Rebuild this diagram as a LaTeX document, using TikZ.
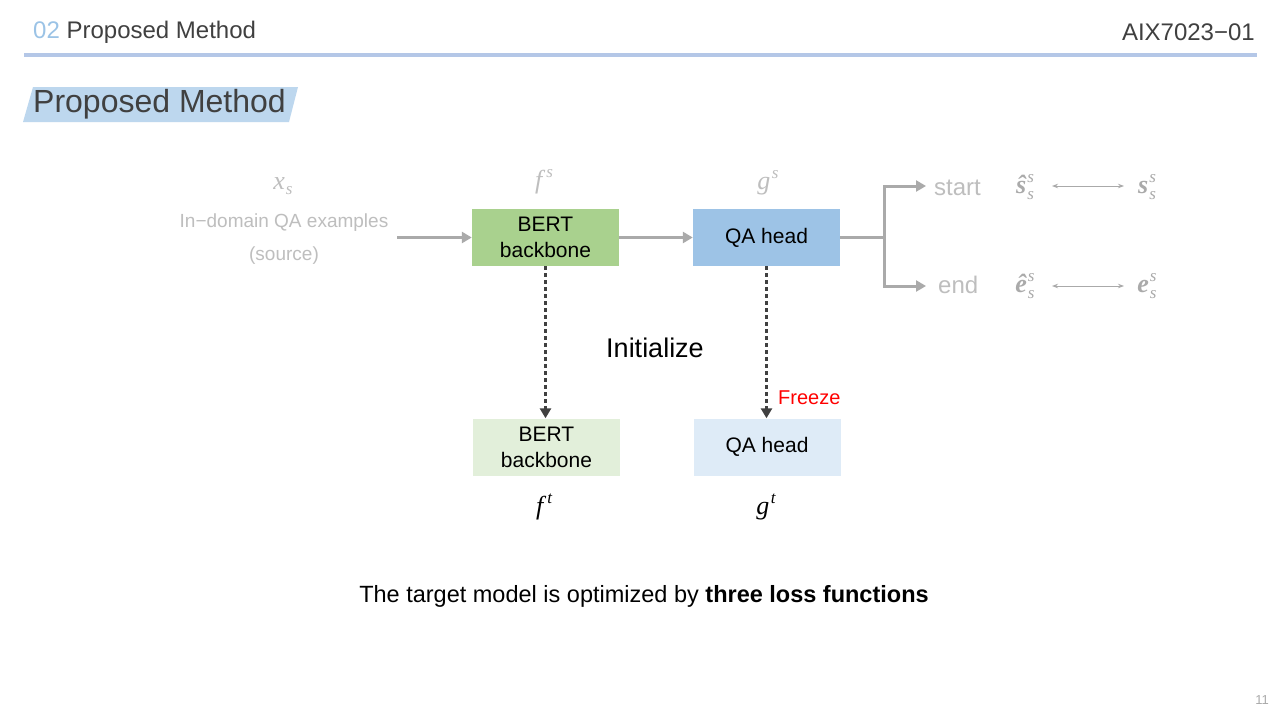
\documentclass[tikz,border=0pt]{standalone}
\usepackage{fontspec}
\setmainfont{Liberation Sans}
\newfontfamily\symfont{Liberation Serif}
\usetikzlibrary{arrows.meta}
\definecolor{hdrblue}{RGB}{155,195,230}
\definecolor{rulecol}{RGB}{180,199,231}
\definecolor{titleband}{RGB}{189,215,238}
\definecolor{darktxt}{RGB}{64,64,64}
\definecolor{lightgray}{RGB}{190,190,190}
\definecolor{flowgray}{RGB}{170,170,170}
\definecolor{bertsrc}{RGB}{169,209,142}
\definecolor{qasrc}{RGB}{157,195,230}
\definecolor{berttgt}{RGB}{226,239,218}
\definecolor{qatgt}{RGB}{222,235,247}
\definecolor{freezered}{RGB}{255,0,0}
% italic symbols with raised / lowered indices
\newcommand{\idxfont}{\fontsize{17}{17}\selectfont\symfont\itshape}
\newcommand{\symsup}[3][4pt]{{\symfont\itshape #2}\kern#1\raisebox{0.42em}{\idxfont #3}}
\newcommand{\symsub}[2]{{\symfont\itshape #1}\kern1pt\raisebox{-0.22em}{\idxfont #2}}
\newcommand{\symboth}[3]{{\symfont\itshape #1}\kern1pt\makebox[0pt][l]{\raisebox{0.42em}{\idxfont #2}}\raisebox{-0.22em}{\idxfont #3}}
\tikzset{
  modelbox/.style={minimum width=147pt, minimum height=57pt, inner sep=0pt, align=center,
    font=\fontsize{21}{25}\selectfont, text=black},
  flow/.style={draw=flowgray, line width=3pt, -{Triangle[length=10pt,width=11pt]}},
  flowline/.style={draw=flowgray, line width=3pt},
  initarrow/.style={draw=darktxt, line width=3.5pt, dash pattern=on 4pt off 3pt,
    -{Triangle[length=10pt,width=11pt]}},
  pairarrow/.style={draw=flowgray, line width=1pt, {Stealth[length=6pt]}-{Stealth[length=6pt]}},
  graylbl/.style={text=lightgray, inner sep=0pt},
  symlbl/.style={inner sep=0pt, font=\fontsize{26}{30}\selectfont},
}
\begin{document}
\begin{tikzpicture}[x=1pt, y=-1pt]
\useasboundingbox[fill=white] (0,0) rectangle (1280,720);

% header bar
\node[anchor=west, inner sep=0pt, font=\fontsize{24}{28}\selectfont] (hdr) at (33,32)
  {\textcolor{hdrblue}{02} \textcolor{darktxt}{Proposed Method}};
\node[anchor=east, inner sep=0pt, text=darktxt, font=\fontsize{24}{28}\selectfont] (course) at (1255,32) {AIX7023−01};
\draw[rulecol, line width=3.5pt] (24,55) -- (1257,55);

% slide title on slanted band
\fill[titleband] (23,122) -- (33,87) -- (298,87) -- (289,122) -- cycle;
\node[anchor=west, inner sep=0pt, text=darktxt, font=\fontsize{32}{36}\selectfont] (title) at (33,104) {Proposed Method};

% source model
\node[modelbox, fill=bertsrc] (bs) at (545.5,237.5) {BERT\\[1pt]backbone};
\node[modelbox, fill=qasrc] (qs) at (766.5,237.5) {QA head};

% target model
\node[modelbox, fill=berttgt] (bt) at (546.5,447) {BERT\\[1pt]backbone};
\node[modelbox, fill=qatgt] (qt) at (767,447) {QA head};

% labels above and below the models
\node[symlbl, text=lightgray] (xs) at (283,186) {\symsub{x}{s}};
\node[symlbl, text=lightgray] (fs) at (544,182) {\symsup{f}{s}};
\node[symlbl, text=lightgray] (gs) at (768,183) {\symsup[1.5pt]{g}{s}};
\node[symlbl] (ft) at (544,507) {\symsup{f}{t}};
\node[symlbl] (gt) at (766,507) {\symsup[1.5pt]{g}{t}};

\node[graylbl, font=\fontsize{19}{22}\selectfont] (src1) at (284,223) {In−domain QA examples};
\node[graylbl, font=\fontsize{19}{22}\selectfont] (src2) at (284,256) {(source)};

% forward flow
\coordinate (inp) at (397,237.5);
\draw[flow] (inp) -- (bs.west);
\draw[flow] (bs.east) -- (qs.west);
\coordinate (split) at (884,237.5);
\coordinate (starttip) at (926,186);
\coordinate (endtip) at (926,286);
\draw[flowline] (qs.east) -- (split);
\draw[flow, line join=miter] (split) |- (starttip);
\draw[flow, line join=miter] (split) |- (endtip);

\node[graylbl, anchor=west, font=\fontsize{24}{28}\selectfont] (start) at (934,188) {start};
\node[graylbl, anchor=west, font=\fontsize{24}{28}\selectfont] (end) at (938,285) {end};

\node[symlbl, text=flowgray] (shat) at (1025,187) {\symboth{\bfseries ŝ}{s}{s}};
\node[symlbl, text=flowgray] (sgt) at (1147,187) {\symboth{\bfseries s}{s}{s}};
\node[symlbl, text=flowgray] (ehat) at (1025,286) {\symboth{\bfseries ê}{s}{s}};
\node[symlbl, text=flowgray] (egt) at (1147,286) {\symboth{\bfseries e}{s}{s}};
\coordinate (sa) at (1052,186);
\coordinate (sb) at (1124,186);
\coordinate (ea) at (1052,286);
\coordinate (eb) at (1124,286);
\draw[pairarrow] (sa) -- (sb);
\draw[pairarrow] (ea) -- (eb);

% initialisation of the target model
\draw[initarrow] (bs.south) -- (bt.north -| bs.south);
\draw[initarrow] (qs.south) -- (qt.north -| qs.south);
\node[inner sep=0pt, font=\fontsize{27}{31}\selectfont] (init) at (655,348) {Initialize};
\node[inner sep=0pt, anchor=west, text=freezered, font=\fontsize{20}{23}\selectfont] (freeze) at (778,398) {Freeze};

% caption
\node[inner sep=0pt, font=\fontsize{23.5}{28}\selectfont] (caption) at (644,596)
  {The target model is optimized by \textbf{three loss functions}};

% page number
\node[inner sep=0pt, text=flowgray, font=\fontsize{13}{15}\selectfont] (page) at (1262,700) {11};
\end{tikzpicture}
\end{document}
